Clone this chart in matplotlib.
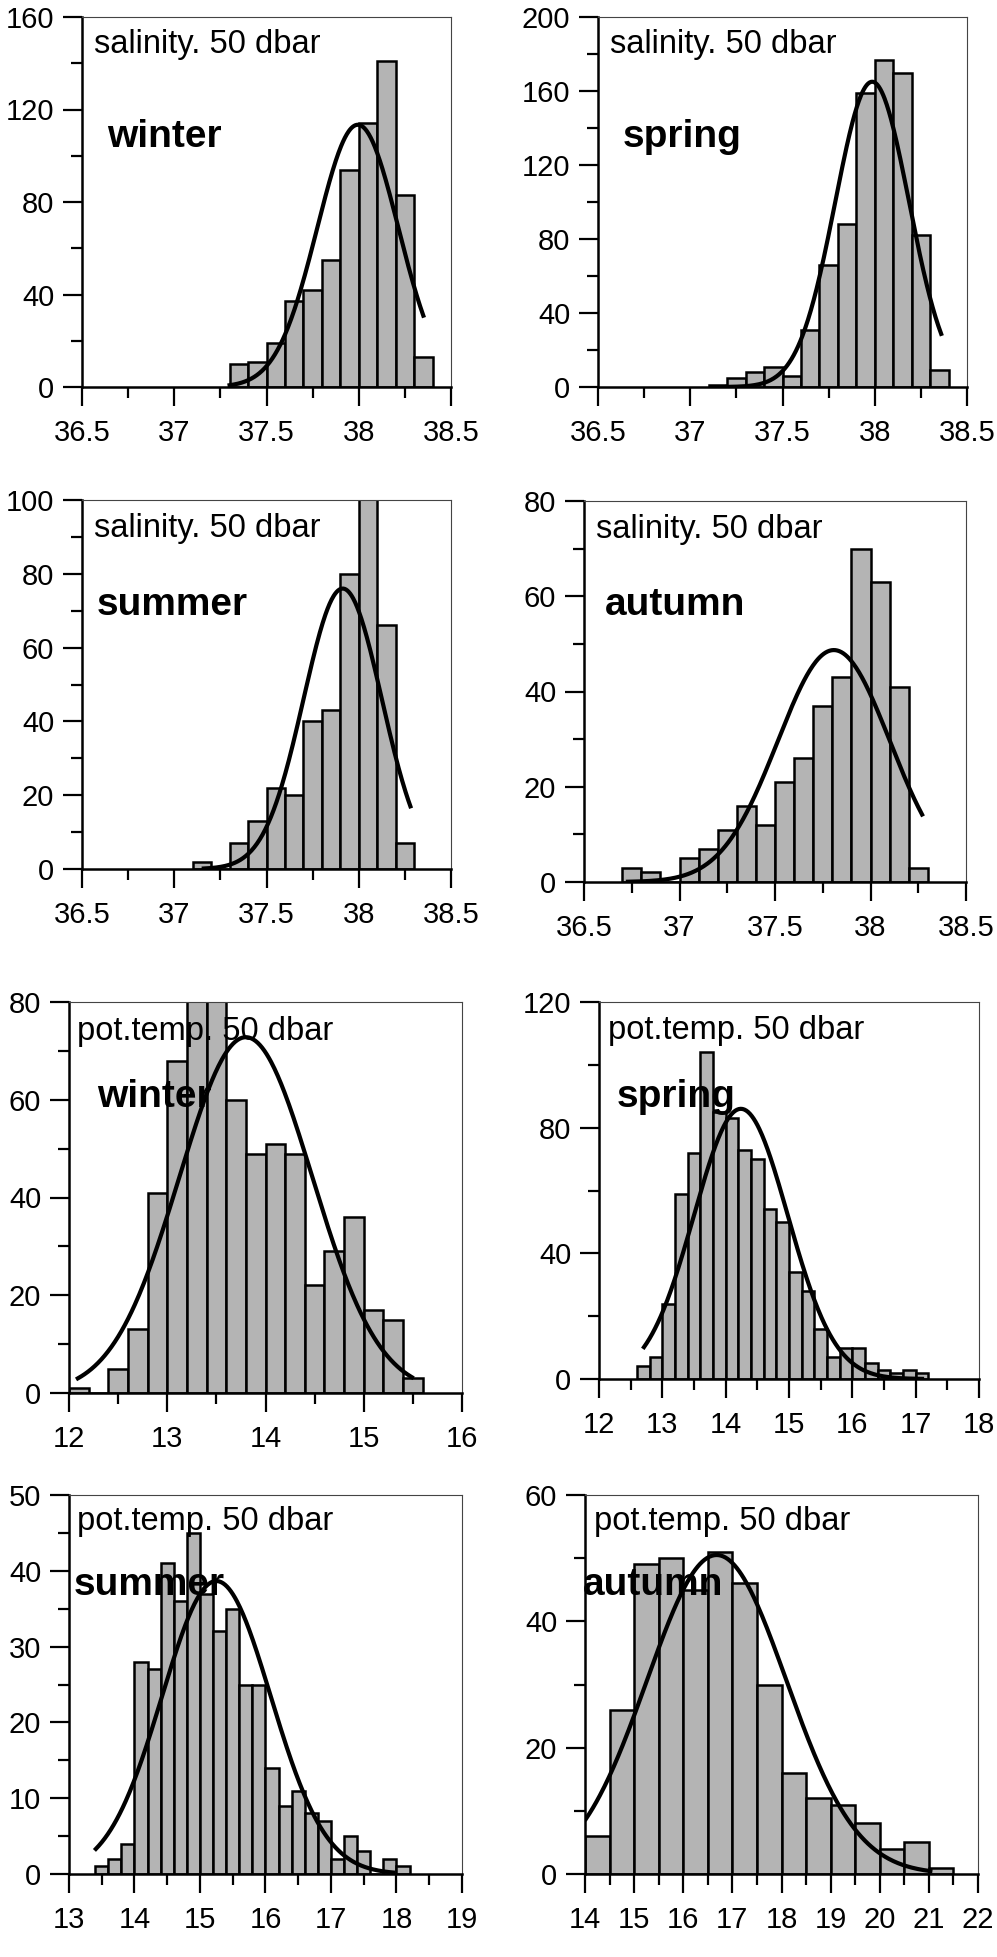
import numpy as np
import matplotlib
matplotlib.use("Agg")
import matplotlib.pyplot as plt
from matplotlib.ticker import MultipleLocator

plt.rcParams['font.family'] = ['Liberation Sans', 'DejaVu Sans']

# ---- data ----
# salinity, 50 dbar (bin width 0.1)
sal_winter_start = 37.3
sal_winter_counts = [10, 11, 19, 37, 42, 55, 94, 114, 141, 83, 13]
sal_winter_fit = (37.995, 0.22, 113.4, 37.3, 38.35)   # mean, sd, peak, x from, x to

sal_spring_start = 37.1
sal_spring_counts = [1, 5, 8, 11, 6, 31, 66, 88, 159, 177, 170, 82, 9]
sal_spring_fit = (37.986, 0.20, 165.0, 37.2, 38.36)

sal_summer_start = 37.1
sal_summer_counts = [2, 0, 7, 13, 22, 20, 40, 43, 80, 112, 66, 7]
sal_summer_fit = (37.913, 0.212, 76.0, 37.16, 38.28)

sal_autumn_start = 36.7
sal_autumn_counts = [3, 2, 0, 5, 7, 11, 16, 12, 21, 26, 37, 43, 70, 63, 41, 3]
sal_autumn_fit = (37.808, 0.294, 48.7, 36.73, 38.27)

# potential temperature, 50 dbar
tmp_winter_start = 12.0   # bin width 0.2
tmp_winter_counts = [1, 0, 5, 13, 41, 68, 86, 83, 60, 49, 51, 49, 22, 29, 36, 17, 15, 3]
tmp_winter_fit = (13.80, 0.677, 72.8, 12.09, 15.49)

tmp_spring_start = 12.6   # bin width 0.2
tmp_spring_counts = [4, 7, 24, 59, 72, 104, 85, 83, 73, 70, 54, 50, 34, 28, 16, 7,
                     10, 10, 5, 3, 2, 3, 2]
tmp_spring_fit = (14.24, 0.74, 86.0, 12.71, 17.1)

tmp_summer_start = 13.4   # bin width 0.2
tmp_summer_counts = [1, 2, 4, 28, 27, 41, 36, 45, 37, 32, 35, 25, 25, 14, 9, 11, 8, 7,
                     2, 5, 3, 0, 2, 1]
tmp_summer_fit = (15.25, 0.83, 38.65, 13.41, 17.95)

tmp_autumn_start = 14.0   # bin width 0.5
tmp_autumn_counts = [6, 26, 49, 50, 45, 51, 46, 30, 16, 12, 11, 8, 4, 5, 1]
tmp_autumn_fit = (16.68, 1.42, 50.5, 14.02, 21.03)

panels = [
    # start, width, counts, fit, xlim, xmaj, xmin, ylim, ymaj, ymin, label, season
    (sal_winter_start, 0.1, sal_winter_counts, sal_winter_fit, (36.5, 38.5), 0.5, 0.25,
     160, 40, 20, "salinity. 50 dbar", "winter"),
    (sal_spring_start, 0.1, sal_spring_counts, sal_spring_fit, (36.5, 38.5), 0.5, 0.25,
     200, 40, 20, "salinity. 50 dbar", "spring"),
    (sal_summer_start, 0.1, sal_summer_counts, sal_summer_fit, (36.5, 38.5), 0.5, 0.25,
     100, 20, 10, "salinity. 50 dbar", "summer"),
    (sal_autumn_start, 0.1, sal_autumn_counts, sal_autumn_fit, (36.5, 38.5), 0.5, 0.25,
     80, 20, 10, "salinity. 50 dbar", "autumn"),
    (tmp_winter_start, 0.2, tmp_winter_counts, tmp_winter_fit, (12, 16), 1, 0.5,
     80, 20, 10, "pot.temp. 50 dbar", "winter"),
    (tmp_spring_start, 0.2, tmp_spring_counts, tmp_spring_fit, (12, 18), 1, 0.5,
     120, 40, 20, "pot.temp. 50 dbar", "spring"),
    (tmp_summer_start, 0.2, tmp_summer_counts, tmp_summer_fit, (13, 19), 1, 0.5,
     50, 10, 5, "pot.temp. 50 dbar", "summer"),
    (tmp_autumn_start, 0.5, tmp_autumn_counts, tmp_autumn_fit, (14, 22), 1, 0.5,
     60, 20, 10, "pot.temp. 50 dbar", "autumn"),
]

# axes boxes in pixels (left, top, right, bottom) and text offsets (px from left, px from top)
W, H = 997, 1957
boxes = [
    (82, 17, 451, 387), (598, 17, 967, 387),
    (82, 500, 451, 869), (584, 501, 966, 882),
    (69, 1002, 462, 1393), (599, 1002, 979, 1379),
    (69, 1495, 462, 1874), (585, 1495, 978, 1874),
]
label_pos = [(12, 36), (12, 36), (12, 37), (12, 37), (8, 38), (9, 37), (8, 35), (9, 35)]
season_pos = [(25, 130), (25, 130), (15, 115), (21, 114), (28, 105), (18, 105), (5, 100), (-2, 100)]

fig = plt.figure(figsize=(W / 100, H / 100), dpi=100)

for (start, bw, counts, fit, xlim, xmaj, xmin, ytop, ymaj, ymin, label, season), \
        (l, t, r, b), (lx, ly), (sx, sy) in zip(panels, boxes, label_pos, season_pos):
    ax = fig.add_axes([l / W, 1 - b / H, (r - l) / W, (b - t) / H])
    lefts = start + bw * np.arange(len(counts))
    ax.bar(lefts, counts, width=bw, align='edge', color='#b4b4b4',
           edgecolor='black', linewidth=1.8, zorder=2)
    mu, sd, peak, x0, x1 = fit
    xs = np.linspace(x0, x1, 300)
    ax.plot(xs, peak * np.exp(-(xs - mu) ** 2 / (2 * sd ** 2)), color='black',
            linewidth=3.0, zorder=3)
    ax.set_xlim(*xlim)
    ax.set_ylim(0, ytop)
    ax.xaxis.set_major_locator(MultipleLocator(xmaj))
    ax.xaxis.set_minor_locator(MultipleLocator(xmin))
    ax.yaxis.set_major_locator(MultipleLocator(ymaj))
    ax.yaxis.set_minor_locator(MultipleLocator(ymin))
    ax.xaxis.set_major_formatter(plt.FuncFormatter(lambda v, p: f"{v:g}"))
    for side in ('top', 'right'):
        ax.spines[side].set_linewidth(0.8)
        ax.spines[side].set_color('#444444')
    for side in ('left', 'bottom'):
        ax.spines[side].set_linewidth(1.8)
    ax.tick_params(which='major', direction='out', length=14, width=1.6,
                   labelsize=21, color='black')
    ax.tick_params(which='minor', direction='out', length=8, width=1.6, color='black')
    ax.tick_params(axis='x', which='major', pad=9)
    ax.tick_params(axis='y', which='major', pad=6)
    bw_px, bh_px = r - l, b - t
    ax.text(lx / bw_px, 1 - ly / bh_px, label, transform=ax.transAxes,
            fontsize=23.5, ha='left', va='baseline', zorder=5)
    ax.text(sx / bw_px, 1 - sy / bh_px, season, transform=ax.transAxes,
            fontsize=28, fontweight='bold', ha='left', va='baseline', zorder=5)

fig.savefig("out.png", dpi=100)
